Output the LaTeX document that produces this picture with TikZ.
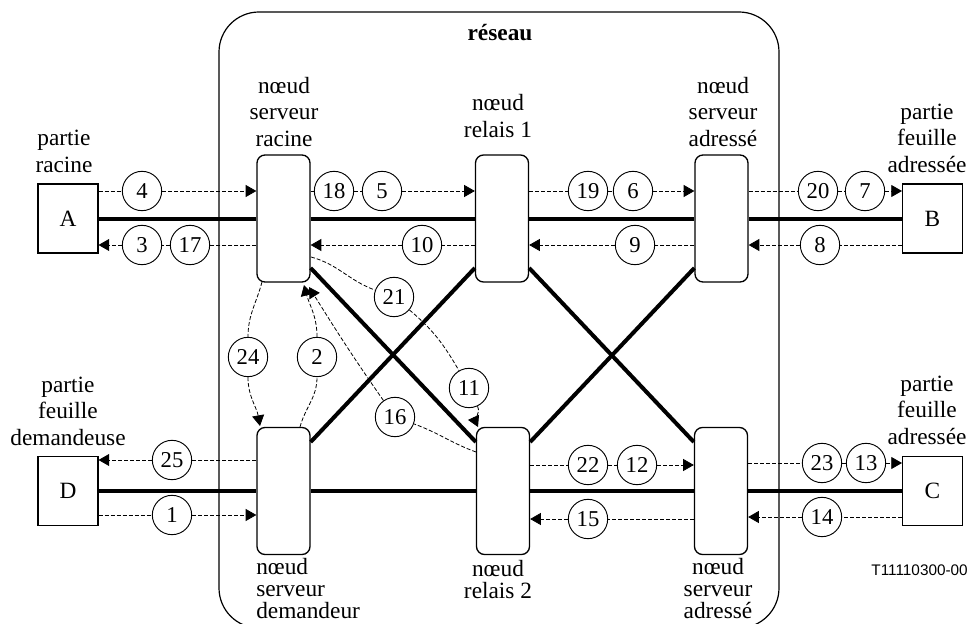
\documentclass[tikz,border=0pt]{standalone}
\usepackage{fontspec}
\setmainfont{Liberation Serif}
\newfontfamily\codefont{Liberation Sans}
\usetikzlibrary{arrows.meta}
\begin{document}
\begin{tikzpicture}[x=0.75pt,y=-0.75pt,
  srv/.style={draw,line width=1pt,rounded corners=6pt,fill=white,minimum width=39.75pt,minimum height=95.25pt,inner sep=0pt},
  term/.style={draw,line width=0.8pt,fill=white,minimum width=45pt,minimum height=51.75pt,inner sep=0pt,font=\fontsize{17.5}{20}\selectfont},
  num/.style={circle,draw,line width=0.7pt,minimum size=29.5pt,inner sep=0pt,font=\fontsize{17}{18}\selectfont},
  lbl/.style={align=center,inner sep=0pt,anchor=south,font=\fontsize{17.5}{20}\selectfont},
  lblb/.style={inner sep=0pt,font=\fontsize{17.5}{16.5}\selectfont},
  bus/.style={line width=3pt},
  dl/.style={line width=0.6pt,dash pattern=on 3pt off 1.5pt},
  arr/.style={dl,-{Triangle[length=8pt,width=9pt]}},
]
\useasboundingbox (0,0) rectangle (970,624);

% network frame
\draw[line width=0.9pt,rounded corners=30pt] (219,628) -- (219,12) -- (779,12) -- (779,628) -- cycle;
\node[anchor=base,inner sep=0pt,font=\bfseries\fontsize{17.5}{20}\selectfont] (net) at (500,41) {réseau};

% nodes
\node[srv] (root) at (283.5,218.5) {};
\node[srv] (rel1) at (502,218.5) {};
\node[srv] (adr1) at (721.5,218.5) {};
\node[srv] (dem)  at (283.5,491) {};
\node[srv] (rel2) at (503,491) {};
\node[srv] (adr2) at (721,491) {};
\node[term] (A) at (68,218.5) {A};
\node[term] (B) at (932.5,218.5) {B};
\node[term] (D) at (68,491) {D};
\node[term] (C) at (932.5,491) {C};

% labels
\node[lbl] (lA) at (64,173) {partie\\racine};
\node[lbl] (lroot) at (284,147) {nœud\\serveur\\racine};
\node[lbl] (lrel1) at (498,138) {nœud\\relais 1};
\node[lbl] (ladr1) at (723,147) {nœud\\serveur\\adressé};
\node[lbl] (lB) at (927,173) {partie\\feuille\\adressée};
\node[lbl] (lD) at (68,446) {partie\\feuille\\demandeuse};
\node[lbl] (lC) at (927,445) {partie\\feuille\\adressée};
\node[lblb,align=left,anchor=south west] (ldem) at (256,619) {nœud\\serveur\\demandeur};
\node[lblb,align=center,anchor=south] (lrel2) at (498,599) {nœud\\relais 2};
\node[lblb,align=center,anchor=south] (ladr2) at (718,619) {nœud\\serveur\\adressé};
\node[anchor=base east,inner sep=0pt,font=\codefont\fontsize{11.5}{13}\selectfont] (code) at (968,575) {T11110300-00};

% thick links
\draw[bus] (A.east) -- (root.west);
\draw[bus] (root.east) -- (rel1.west);
\draw[bus] (rel1.east) -- (adr1.west);
\draw[bus] (adr1.east) -- (B.west);
\draw[bus] (D.east) -- (dem.west);
\draw[bus] (dem.east) -- (rel2.west);
\draw[bus] (rel2.east) -- (adr2.west);
\draw[bus] (adr2.east) -- (C.west);
\coordinate (dt) at (0,268);
\coordinate (db) at (0,442);
\draw[bus] (root.east |- dt) -- (rel2.west |- db);
\draw[bus] (rel1.west |- dt) -- (dem.east |- db);
\draw[bus] (rel1.east |- dt) -- (adr2.west |- db);
\draw[bus] (adr1.west |- dt) -- (rel2.east |- db);

% number circles
\foreach \n/\x/\y in {4/142/191,18/334/191,5/382/191,19/588/191,6/633/191,20/818/191,7/865/191,
  3/142/245,17/190/245,10/422/245,9/635/245,8/820/245,
  25/172/460,22/588/465,12/637/465,23/822/463,13/866/463,
  1/172/515,15/588/519,14/822/517,
  24/248/357,2/317/357,21/394/297,11/469/388,16/395/417}
  \node[num] (n\n) at (\x,\y) {\n};

% row coordinates
\coordinate (ua) at (0,191);
\coordinate (la) at (0,245);
\coordinate (ub1) at (0,460);
\coordinate (ub2) at (0,465);
\coordinate (ub3) at (0,463);
\coordinate (lb1) at (0,515);
\coordinate (lb2) at (0,519);
\coordinate (lb3) at (0,517);

% row 1 dashed
\draw[arr] (A.east |- ua) -- (n4) -- (root.west |- ua);
\draw[arr] (root.east |- ua) -- (n18) -- (n5) -- (rel1.west |- ua);
\draw[arr] (rel1.east |- ua) -- (n19) -- (n6) -- (adr1.west |- ua);
\draw[arr] (adr1.east |- ua) -- (n20) -- (n7) -- (B.west |- ua);
\draw[arr] (root.west |- la) -- (n17) -- (n3) -- (A.east |- la);
\draw[arr] (rel1.west |- la) -- (n10) -- (root.east |- la);
\draw[arr] (adr1.west |- la) -- (n9) -- (rel1.east |- la);
\draw[arr] (B.west |- la) -- (n8) -- (adr1.east |- la);

% row 2 dashed
\draw[arr] (dem.west |- ub1) -- (n25) -- (D.east |- ub1);
\draw[arr] (rel2.east |- ub2) -- (n22) -- (n12) -- (adr2.west |- ub2);
\draw[arr] (adr2.east |- ub3) -- (n23) -- (n13) -- (C.west |- ub3);
\draw[arr] (D.east |- lb1) -- (n1) -- (dem.west |- lb1);
\draw[arr] (adr2.west |- lb2) -- (n15) -- (rel2.east |- lb2);
\draw[arr] (C.west |- lb3) -- (n14) -- (adr2.east |- lb3);

% curved dashed
\coordinate (c24a) at (262,282);
\coordinate (c24b) at (260,426);
\coordinate (c2a) at (300,427);
\coordinate (c2b) at (304,285);
\coordinate (c21a) at (311,257);
\coordinate (c11b) at (478,427);
\coordinate (c16a) at (476,452);
\coordinate (c16b) at (309,287);
\draw[arr] (c24a) to[out=-105,in=90] (n24) to[out=-90,in=100] (c24b);
\draw[arr] (c2a) to[out=75,in=-90] (n2) to[out=90,in=-75] (c2b);
\draw[arr] (c21a) to[out=-15,in=160] (n21) to[out=-40,in=120] (n11) to[out=-65,in=115] (c11b);
\draw[arr] (c16a) to[out=160,in=-20] (n16) to[out=125,in=-58] (c16b);
\end{tikzpicture}
\end{document}
